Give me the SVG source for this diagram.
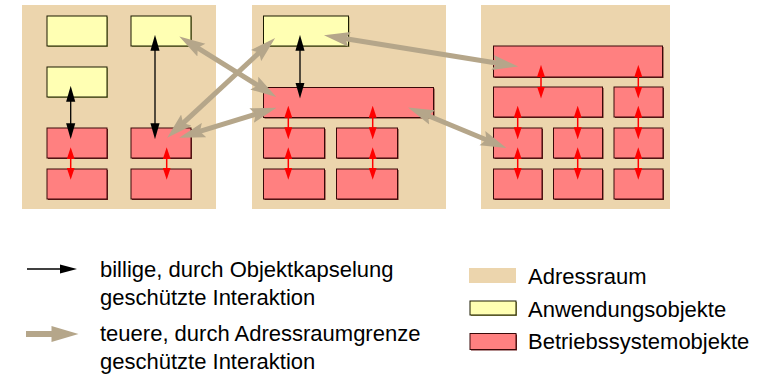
<svg xmlns="http://www.w3.org/2000/svg" width="769" height="376" viewBox="0 0 769 376">
  <defs>
    <style>
      .space { fill: #ecd5ad; }
      .app-shadow { fill: #9a9a50; }
      .app { fill: #ffffb3; stroke: #1a1a00; stroke-width: 1; }
      .os-shadow { fill: #6a1c1c; }
      .os { fill: #ff8080; stroke: #3a0808; stroke-width: 1; }
      .cheap { stroke: #000; stroke-width: 1.3; fill: none; marker-start: url(#headBlack); marker-end: url(#headBlack); }
      .os-link { stroke: #ff0000; stroke-width: 1.5; fill: none; marker-start: url(#headRed); marker-end: url(#headRed); }
      .costly { stroke: #b5a68a; stroke-width: 5; fill: none; marker-start: url(#headTan); marker-end: url(#headTan); }
      .label { font-family: "Liberation Sans", Arial, Helvetica, sans-serif; font-size: 22px; fill: #000; }
    </style>
    <marker id="headBlack" markerUnits="userSpaceOnUse" markerWidth="16" markerHeight="10" viewBox="0 0 14 8" refX="1" refY="4" orient="auto-start-reverse">
      <path d="M0,0 L14,4 L0,8 z" fill="#000"/>
    </marker>
    <marker id="headRed" markerUnits="userSpaceOnUse" markerWidth="12" markerHeight="8" viewBox="0 0 10 6.6" refX="1" refY="3.3" orient="auto-start-reverse">
      <path d="M0,0 L10,3.3 L0,6.6 z" fill="#ff0000"/>
    </marker>
    <marker id="headTan" markerUnits="userSpaceOnUse" markerWidth="26" markerHeight="16" viewBox="0 0 24 14" refX="5" refY="7" orient="auto-start-reverse">
      <path d="M0,0 L24,7 L0,14 L4,7 z" fill="#b5a68a"/>
    </marker>
  </defs>

  <!-- address space 1 -->
  <g id="space1">
    <rect class="space" x="22" y="5" width="194" height="204"/>
    <g id="s1-app1"><rect class="app-shadow" x="48" y="17" width="60" height="30"/><rect class="app" x="47" y="16" width="60" height="30"/></g>
    <g id="s1-app2"><rect class="app-shadow" x="132" y="17" width="60" height="30"/><rect class="app" x="131" y="16" width="60" height="30"/></g>
    <g id="s1-app3"><rect class="app-shadow" x="48" y="68" width="60" height="30"/><rect class="app" x="47" y="67" width="60" height="30"/></g>
    <g id="s1-os1"><rect class="os-shadow" x="48" y="129" width="60" height="30"/><rect class="os" x="47" y="128" width="60" height="30"/></g>
    <g id="s1-os2"><rect class="os-shadow" x="48" y="170" width="60" height="30"/><rect class="os" x="47" y="169" width="60" height="30"/></g>
    <g id="s1-os3"><rect class="os-shadow" x="132" y="129" width="60" height="30"/><rect class="os" x="131" y="128" width="60" height="30"/></g>
    <g id="s1-os4"><rect class="os-shadow" x="132" y="170" width="60" height="30"/><rect class="os" x="131" y="169" width="60" height="30"/></g>
  </g>

  <!-- address space 2 -->
  <g id="space2">
    <rect class="space" x="252" y="5" width="194" height="204"/>
    <g id="s2-app1"><rect class="app-shadow" x="264.5" y="17" width="85" height="30"/><rect class="app" x="263.5" y="16" width="85" height="30"/></g>
    <g id="s2-os1"><rect class="os-shadow" x="264.5" y="88.5" width="170" height="30"/><rect class="os" x="263.5" y="87.5" width="170" height="30"/></g>
    <g id="s2-os2"><rect class="os-shadow" x="264.5" y="129" width="61" height="30"/><rect class="os" x="263.5" y="128" width="61" height="30"/></g>
    <g id="s2-os3"><rect class="os-shadow" x="337.5" y="129" width="61" height="30"/><rect class="os" x="336.5" y="128" width="61" height="30"/></g>
    <g id="s2-os4"><rect class="os-shadow" x="264.5" y="170" width="61" height="30"/><rect class="os" x="263.5" y="169" width="61" height="30"/></g>
    <g id="s2-os5"><rect class="os-shadow" x="337.5" y="170" width="61" height="30"/><rect class="os" x="336.5" y="169" width="61" height="30"/></g>
  </g>

  <!-- address space 3 -->
  <g id="space3">
    <rect class="space" x="481" y="5" width="189" height="204"/>
    <g id="s3-os1"><rect class="os-shadow" x="494.5" y="47" width="169" height="31"/><rect class="os" x="493.5" y="46" width="169" height="31"/></g>
    <g id="s3-os2"><rect class="os-shadow" x="494.5" y="88" width="109" height="30"/><rect class="os" x="493.5" y="87" width="109" height="30"/></g>
    <g id="s3-os3"><rect class="os-shadow" x="615" y="88" width="49" height="30"/><rect class="os" x="614" y="87" width="49" height="30"/></g>
    <g id="s3-os4"><rect class="os-shadow" x="494.5" y="129" width="48.5" height="30"/><rect class="os" x="493.5" y="128" width="48.5" height="30"/></g>
    <g id="s3-os5"><rect class="os-shadow" x="554.5" y="129" width="49" height="30"/><rect class="os" x="553.5" y="128" width="49" height="30"/></g>
    <g id="s3-os6"><rect class="os-shadow" x="615" y="129" width="49" height="30"/><rect class="os" x="614" y="128" width="49" height="30"/></g>
    <g id="s3-os7"><rect class="os-shadow" x="494.5" y="170" width="48.5" height="30"/><rect class="os" x="493.5" y="169" width="48.5" height="30"/></g>
    <g id="s3-os8"><rect class="os-shadow" x="554.5" y="170" width="49" height="30"/><rect class="os" x="553.5" y="169" width="49" height="30"/></g>
    <g id="s3-os9"><rect class="os-shadow" x="615" y="170" width="49" height="30"/><rect class="os" x="614" y="169" width="49" height="30"/></g>
  </g>

  <!-- connectors -->
  <g id="connectors">
    <!-- cheap interactions within one address space -->
    <line class="cheap" x1="70.7" y1="100.7" x2="70.7" y2="124.3"/>
    <line class="cheap" x1="155" y1="49.7" x2="155" y2="124.3"/>
    <line class="cheap" x1="300" y1="49.7" x2="300" y2="83.7"/>

    <!-- links between system objects -->
    <line class="os-link" x1="70.7" y1="158" x2="70.7" y2="169"/>
    <line class="os-link" x1="166.7" y1="158" x2="166.7" y2="169"/>
    <line class="os-link" x1="288.3" y1="116.5" x2="288.3" y2="128.5"/>
    <line class="os-link" x1="372.7" y1="116.5" x2="372.7" y2="128.5"/>
    <line class="os-link" x1="288.3" y1="158" x2="288.3" y2="169"/>
    <line class="os-link" x1="372.7" y1="158" x2="372.7" y2="169"/>
    <line class="os-link" x1="541" y1="75.7" x2="541" y2="87.7"/>
    <line class="os-link" x1="638.3" y1="75.7" x2="638.3" y2="87.7"/>
    <line class="os-link" x1="517.7" y1="116.5" x2="517.7" y2="128.5"/>
    <line class="os-link" x1="577.7" y1="116.5" x2="577.7" y2="128.5"/>
    <line class="os-link" x1="638.3" y1="116.5" x2="638.3" y2="128.5"/>
    <line class="os-link" x1="517.7" y1="158" x2="517.7" y2="169"/>
    <line class="os-link" x1="577.7" y1="158" x2="577.7" y2="169"/>
    <line class="os-link" x1="638.3" y1="158" x2="638.3" y2="169"/>

    <!-- costly interactions across address spaces -->
    <line class="costly" x1="196.8" y1="47.3" x2="258.9" y2="86"/>
    <line class="costly" x1="182.3" y1="123.8" x2="260" y2="51.9"/>
    <line class="costly" x1="198.9" y1="131.7" x2="256.8" y2="113.9"/>
    <line class="costly" x1="344.3" y1="38.5" x2="497.9" y2="63.3"/>
    <line class="costly" x1="427.1" y1="115.3" x2="487.4" y2="140.2"/>
  </g>

  <!-- legend -->
  <g id="legend">
    <line x1="27" y1="269" x2="62" y2="269" stroke="#000" stroke-width="1.3"/>
    <path d="M60,264.5 L77,269 L60,273.5 z" fill="#000"/>
    <text class="label" x="100" y="277">billige, durch Objektkapselung</text>
    <text class="label" x="100" y="305">geschützte Interaktion</text>

    <line x1="26" y1="334" x2="54" y2="334" stroke="#b5a68a" stroke-width="6"/>
    <path d="M51.5,326 L78.5,334 L51.5,342 z" fill="#b5a68a"/>
    <text class="label" x="100" y="341">teuere, durch Adressraumgrenze</text>
    <text class="label" x="100" y="369">geschützte Interaktion</text>

    <rect class="space" x="469" y="268" width="47" height="15"/>
    <text class="label" x="528" y="284">Adressraum</text>
    <rect class="app-shadow" x="471" y="302" width="46" height="14"/>
    <rect class="app" x="470" y="301" width="46" height="14"/>
    <text class="label" x="528" y="317">Anwendungsobjekte</text>
    <rect class="os-shadow" x="471" y="334.5" width="46" height="16"/>
    <rect class="os" x="470" y="333.5" width="46" height="16"/>
    <text class="label" x="528" y="349">Betriebssystemobjekte</text>
  </g>
</svg>
